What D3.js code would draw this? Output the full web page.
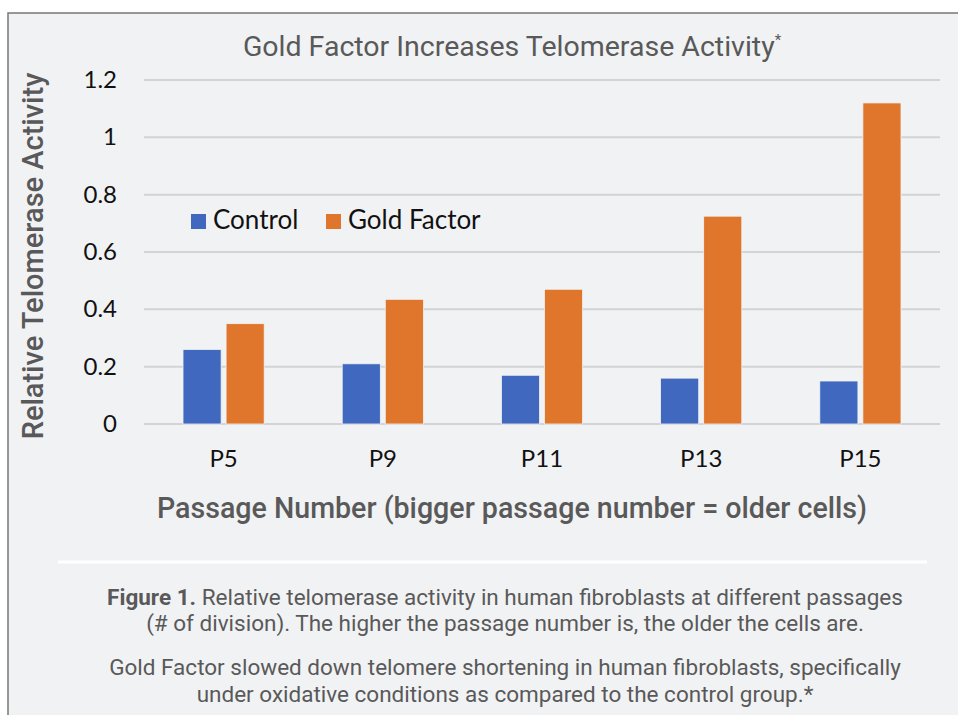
<!DOCTYPE html>
<html>
<head>
<meta charset="utf-8">
<script src="https://cdn.jsdelivr.net/npm/d3@7"></script>
<style>
  html, body { margin: 0; padding: 0; background: #fff; }
  svg { display: block; }
</style>
</head>
<body>
<svg id="chart" width="958" height="715"></svg>
<script>
// chart data
var passages = ['P5', 'P9', 'P11', 'P13', 'P15'];
var seriesNames = ['Control', 'Gold Factor'];
var controlValues = [0.26, 0.21, 0.17, 0.16, 0.15];
var goldValues = [0.35, 0.435, 0.47, 0.725, 1.12];
var yTicks = [0, 0.2, 0.4, 0.6, 0.8, 1, 1.2];
var colors = ['#4068bf', '#e0762b'];

var svg = d3.select('#chart');

// card
svg.append('rect')
    .attr('x', 8).attr('y', 13)
    .attr('width', 970).attr('height', 720)
    .attr('fill', '#f1f2f4')
    .attr('stroke', '#777').attr('stroke-width', 1.5);

var margin = {left: 144, right: 940, top: 80, bottom: 424};

var x = d3.scaleBand()
    .domain(passages)
    .range([margin.left, margin.right]);

var inner = d3.scaleBand()
    .domain(seriesNames)
    .range([x.bandwidth() * 0.245, x.bandwidth() * 0.755])
    .paddingInner(0.115);

var y = d3.scaleLinear()
    .domain([0, 1.2])
    .range([margin.bottom, margin.top]);

// gridlines
svg.append('g').selectAll('line')
    .data(yTicks)
  .enter().append('line')
    .attr('x1', margin.left).attr('x2', margin.right)
    .attr('y1', function(d) { return y(d); })
    .attr('y2', function(d) { return y(d); })
    .attr('stroke', '#d2d3d6').attr('stroke-width', 2);

// y tick labels
svg.append('g').selectAll('text')
    .data(yTicks)
  .enter().append('text')
    .attr('x', 117)
    .attr('y', function(d) { return y(d) + 8; })
    .attr('text-anchor', 'end')
    .attr('font-family', 'Lato, sans-serif')
    .attr('font-size', 24)
    .attr('fill', '#111')
    .text(function(d) { return d3.format('')(d); });

// bars
var rows = passages.map(function(p, i) {
  return {p: p, vals: [controlValues[i], goldValues[i]]};
});

var groups = svg.append('g').selectAll('g')
    .data(rows)
  .enter().append('g')
    .attr('transform', function(d) { return 'translate(' + x(d.p) + ',0)'; });

groups.selectAll('rect')
    .data(function(d) { return d.vals.map(function(v, j) { return {name: seriesNames[j], v: v, j: j}; }); })
  .enter().append('rect')
    .attr('x', function(d) { return inner(d.name); })
    .attr('width', inner.bandwidth())
    .attr('y', function(d) { return y(d.v); })
    .attr('height', function(d) { return y(0) - y(d.v); })
    .attr('fill', function(d) { return colors[d.j]; })
    .attr('stroke', '#f1f2f4').attr('stroke-width', 0.8);

// x tick labels
svg.append('g').selectAll('text')
    .data(passages)
  .enter().append('text')
    .attr('x', function(d) { return x(d) + x.bandwidth() / 2; })
    .attr('y', 467)
    .attr('text-anchor', 'middle')
    .attr('font-family', 'Lato, sans-serif')
    .attr('font-size', 24)
    .attr('fill', '#111')
    .text(function(d) { return d; });

// legend
var legendX = [191, 326];
var legend = svg.append('g').selectAll('g')
    .data(seriesNames)
  .enter().append('g')
    .attr('transform', function(d, i) { return 'translate(' + legendX[i] + ',214)'; });
legend.append('rect')
    .attr('width', 15).attr('height', 15)
    .attr('fill', function(d, i) { return colors[i]; });
legend.append('text')
    .attr('x', 22).attr('y', 15)
    .attr('font-family', 'Lato, sans-serif')
    .attr('font-size', 26)
    .attr('fill', '#111')
    .text(function(d) { return d; });

// title
var title = svg.append('text')
    .attr('x', 512).attr('y', 56)
    .attr('text-anchor', 'middle')
    .attr('font-family', 'Roboto, sans-serif')
    .attr('font-size', 28.5)
    .attr('fill', '#595959');
title.append('tspan').text('Gold Factor Increases Telomerase Activity');
title.append('tspan').attr('dy', -11).attr('font-size', 15).text('*');

// axis titles
svg.append('text')
    .attr('transform', 'translate(43,256) rotate(-90)')
    .attr('text-anchor', 'middle')
    .attr('font-family', 'Roboto, sans-serif')
    .attr('font-weight', 500)
    .attr('font-size', 29)
    .attr('fill', '#595959')
    .text('Relative Telomerase Activity');

svg.append('text')
    .attr('x', 512).attr('y', 518)
    .attr('text-anchor', 'middle')
    .attr('font-family', 'Roboto, sans-serif')
    .attr('font-weight', 500)
    .attr('font-size', 28.6)
    .attr('fill', '#595959')
    .text('Passage Number (bigger passage number = older cells)');

// divider
svg.append('line')
    .attr('x1', 58).attr('x2', 927)
    .attr('y1', 562).attr('y2', 562)
    .attr('stroke', '#fff').attr('stroke-width', 3);

// caption
var caption = [
  [{b: true, t: 'Figure 1.'}, {b: false, t: ' Relative telomerase activity in human fibroblasts at different passages'}],
  [{b: false, t: '(# of division). The higher the passage number is, the older the cells are.'}],
  [{b: false, t: 'Gold Factor slowed down telomere shortening in human fibroblasts, specifically'}],
  [{b: false, t: 'under oxidative conditions as compared to the control group.*'}]
];
var captionY = [605, 631, 675, 702];

svg.append('g').selectAll('text')
    .data(caption)
  .enter().append('text')
    .attr('x', 505)
    .attr('y', function(d, i) { return captionY[i]; })
    .attr('text-anchor', 'middle')
    .attr('font-family', 'Roboto, sans-serif')
    .attr('font-size', 22.5)
    .attr('fill', '#595959')
  .selectAll('tspan')
    .data(function(d) { return d; })
  .enter().append('tspan')
    .attr('font-weight', function(d) { return d.b ? 700 : 400; })
    .text(function(d) { return d.t; });
</script>
</body>
</html>
